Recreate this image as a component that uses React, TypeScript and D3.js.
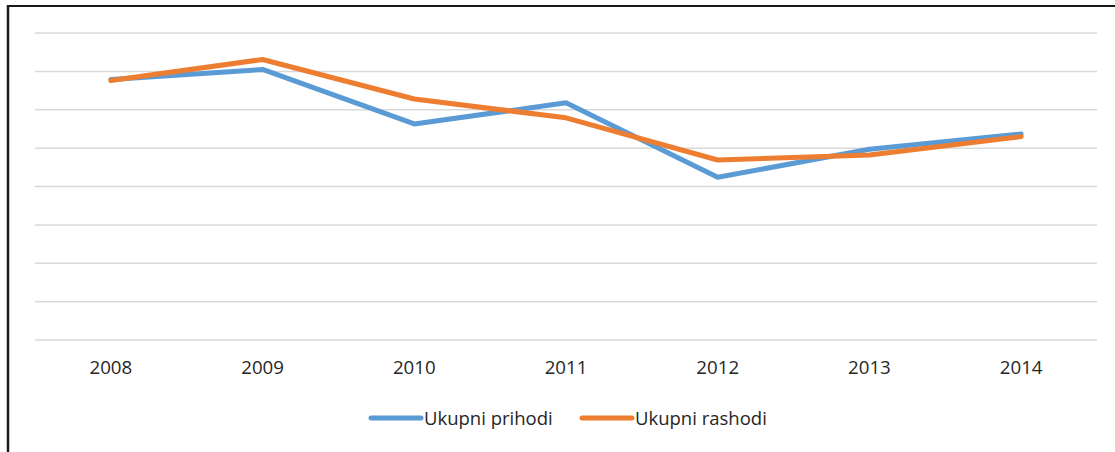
import React, { useEffect, useRef } from 'react'
import * as d3 from 'd3'

const years = ['2008', '2009', '2010', '2011', '2012', '2013', '2014']
const prihodi = [6.79, 7.05, 5.63, 6.18, 4.24, 4.97, 5.37]
const rashodi = [6.76, 7.31, 6.28, 5.79, 4.69, 4.82, 5.30]
const gridTicks = [0, 1, 2, 3, 4, 5, 6, 7, 8]
const seriesNames = ['Ukupni prihodi', 'Ukupni rashodi']
const seriesColors = ['#5B9BD5', '#ED7D31']

const W = 1115
const H = 452
const font = '"Open Sans", "Noto Sans", sans-serif'

export default function App() {
    const node = useRef<SVGSVGElement | null>(null)

    useEffect(() => {
        const svg = d3.select(node.current)
        svg.selectAll('*').remove()

        // outer frame (only top and left edges visible)
        svg.append('line').attr('x1', 8).attr('x2', W).attr('y1', 6).attr('y2', 6)
            .attr('stroke', '#1a1a1a').attr('stroke-width', 2)
        svg.append('line').attr('x1', 8).attr('x2', 8).attr('y1', 5).attr('y2', H)
            .attr('stroke', '#1a1a1a').attr('stroke-width', 2.5)

        const x = d3.scaleBand().domain(years).range([35, 1097])
        const y = d3.scaleLinear().domain([0, 8]).range([340, 33])

        const grid = svg.append('g')
        grid.selectAll('line').data(gridTicks).enter().append('line')
            .attr('x1', 35).attr('x2', 1097)
            .attr('y1', d => y(d)).attr('y2', d => y(d))
            .attr('stroke', '#D9D9D9').attr('stroke-width', 1.5)

        const xAxis = svg.append('g').attr('transform', 'translate(0,340)')
            .call(d3.axisBottom(x).tickSize(0).tickPadding(21))
        xAxis.select('.domain').remove()
        xAxis.selectAll('text')
            .attr('font-family', font).attr('font-size', 18.7).attr('fill', '#262626')

        const line = d3.line<number>()
            .x((d, i) => (x(years[i]) as number) + x.bandwidth() / 2)
            .y(d => y(d))

        const series = [prihodi, rashodi]
        series.forEach((s, i) => {
            svg.append('path').datum(s)
                .attr('d', line)
                .attr('fill', 'none')
                .attr('stroke', seriesColors[i])
                .attr('stroke-width', 5)
                .attr('stroke-linejoin', 'round')
                .attr('stroke-linecap', 'round')
        })

        // legend
        const legendX = [371, 582]
        const legend = svg.append('g')
        seriesNames.forEach((name, i) => {
            legend.append('line')
                .attr('x1', legendX[i]).attr('x2', legendX[i] + 50)
                .attr('y1', 418).attr('y2', 418)
                .attr('stroke', seriesColors[i]).attr('stroke-width', 5)
                .attr('stroke-linecap', 'round')
            legend.append('text')
                .attr('x', legendX[i] + 53).attr('y', 425)
                .attr('font-family', font).attr('font-size', 18.5).attr('fill', '#262626')
                .text(name)
        })
    }, [])

    return (
        <div style={{ position: 'absolute', left: 0, top: 0 }}>
            <svg ref={node} width={W} height={H} style={{ display: 'block', background: '#fff' }} />
        </div>
    )
}
